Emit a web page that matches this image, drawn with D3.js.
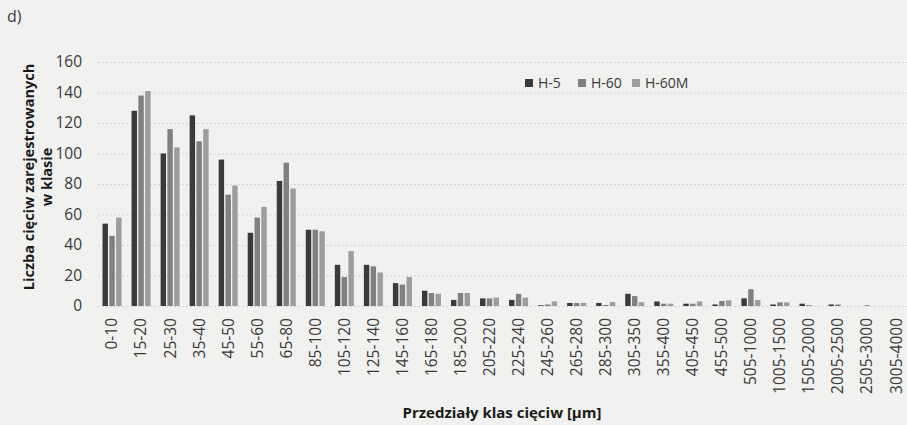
<!DOCTYPE html>
<html>
<head>
<meta charset="utf-8">
<script src="https://cdn.jsdelivr.net/npm/d3@7"></script>
<style>
  html, body { margin: 0; padding: 0; background: #f1f1ef; }
  svg { display: block; font-family: "Open Sans", sans-serif; }
</style>
</head>
<body>
<svg id="chart"></svg>
<script>
const width = 907, height = 425;

// klasy cięciw [µm]
const categories = ["0-10","15-20","25-30","35-40","45-50","55-60","65-80","85-100",
  "105-120","125-140","145-160","165-180","185-200","205-220","225-240","245-260",
  "265-280","285-300","305-350","355-400","405-450","455-500","505-1000","1005-1500",
  "1505-2000","2005-2500","2505-3000","3005-4000"];

const seriesNames = ["H-5", "H-60", "H-60M"];

const h5   = [54,128,100,125,96,48,82,50,27,27,15,10,4,5,4,0.5,2,2,8,3,1.5,1,5,1,1.5,1,0,0];
const h60  = [46,138,116,108,73,58,94,50,19,26,14,8.5,8.5,5,8,1,2,0.7,6.5,1.5,1.5,3.3,11,2.4,0.5,1,0.5,0];
const h60m = [58,141,104,116,79,65,77,49,36,22,19,8,8.5,5.5,5.5,3,2,2.6,2.5,1.5,3,3.7,4,2.4,0,0,0,0];

const yTicks = [0,20,40,60,80,100,120,140,160];

const colors = ["#3a3a3a", "#808080", "#9d9d9d"];

const rows = categories.map((c, i) => ({ cat: c, vals: [h5[i], h60[i], h60m[i]] }));

const svg = d3.select("#chart")
  .attr("width", width)
  .attr("height", height);

const x = d3.scaleBand()
  .domain(categories)
  .range([97.5, 910.6])
  .padding(0);

const groupW = 19;
const xs = d3.scaleBand()
  .domain(seriesNames)
  .range([(x.bandwidth() - groupW) / 2, (x.bandwidth() + groupW) / 2])
  .paddingInner(0.2);

const y = d3.scaleLinear()
  .domain([0, 160])
  .range([306, 62]);

// gridlines
svg.append("g")
  .selectAll("line")
  .data(yTicks)
  .join("line")
  .attr("x1", 98)
  .attr("x2", width)
  .attr("y1", d => y(d) + 0.5)
  .attr("y2", d => y(d) + 0.5)
  .attr("stroke", "#d4d4d4")
  .attr("stroke-dasharray", "2,2");

// y axis labels
const yAxis = svg.append("g")
  .attr("transform", "translate(82,0)")
  .call(d3.axisLeft(y).tickValues(yTicks).tickSize(0).tickPadding(0));
yAxis.select(".domain").remove();
yAxis.selectAll("text")
  .attr("font-family", "Open Sans")
  .attr("font-size", "15.5px")
  .attr("fill", "#3a3a3a");

// bars
svg.append("g")
  .selectAll("g")
  .data(rows)
  .join("g")
  .attr("transform", d => `translate(${x(d.cat)},0)`)
  .selectAll("rect")
  .data(d => d.vals.map((v, k) => ({ key: seriesNames[k], v: v, k: k })))
  .join("rect")
  .attr("x", d => xs(d.key))
  .attr("y", d => y(d.v))
  .attr("width", xs.bandwidth())
  .attr("height", d => y(0) - y(d.v))
  .attr("fill", d => colors[d.k]);

// x axis labels
const xAxis = svg.append("g")
  .attr("transform", "translate(0,318)")
  .call(d3.axisBottom(x).tickSize(0).tickPadding(0));
xAxis.select(".domain").remove();
xAxis.selectAll("text")
  .attr("font-family", "Open Sans")
  .attr("font-size", "15.5px")
  .attr("fill", "#3a3a3a")
  .attr("text-anchor", "end")
  .attr("transform", "rotate(-90)")
  .attr("x", 0)
  .attr("y", 0)
  .attr("dy", "0.35em");

// axis titles
svg.append("text")
  .attr("transform", "translate(34,177) rotate(-90)")
  .attr("text-anchor", "middle")
  .attr("font-weight", "bold")
  .attr("font-size", "14.5px")
  .attr("fill", "#1a1a1a")
  .text("Liczba cięciw zarejestrowanych");
svg.append("text")
  .attr("transform", "translate(52,177) rotate(-90)")
  .attr("text-anchor", "middle")
  .attr("font-weight", "bold")
  .attr("font-size", "14.5px")
  .attr("fill", "#1a1a1a")
  .text("w klasie");

svg.append("text")
  .attr("x", 502)
  .attr("y", 418)
  .attr("text-anchor", "middle")
  .attr("font-weight", "bold")
  .attr("font-size", "15px")
  .attr("fill", "#1a1a1a")
  .text("Przedziały klas cięciw [µm]");

svg.append("text")
  .attr("x", 7)
  .attr("y", 22)
  .attr("font-size", "16px")
  .attr("fill", "#3a3a3a")
  .text("d)");

// legend
const legendX = [525, 578, 632];
const legend = svg.append("g")
  .selectAll("g")
  .data(seriesNames)
  .join("g")
  .attr("transform", (d, i) => `translate(${legendX[i]},79)`);
legend.append("rect")
  .attr("width", 8)
  .attr("height", 8)
  .attr("fill", (d, i) => colors[i]);
legend.append("text")
  .attr("x", 13)
  .attr("y", 9)
  .attr("font-size", "14px")
  .attr("fill", "#3a3a3a")
  .text(d => d);
</script>
</body>
</html>
